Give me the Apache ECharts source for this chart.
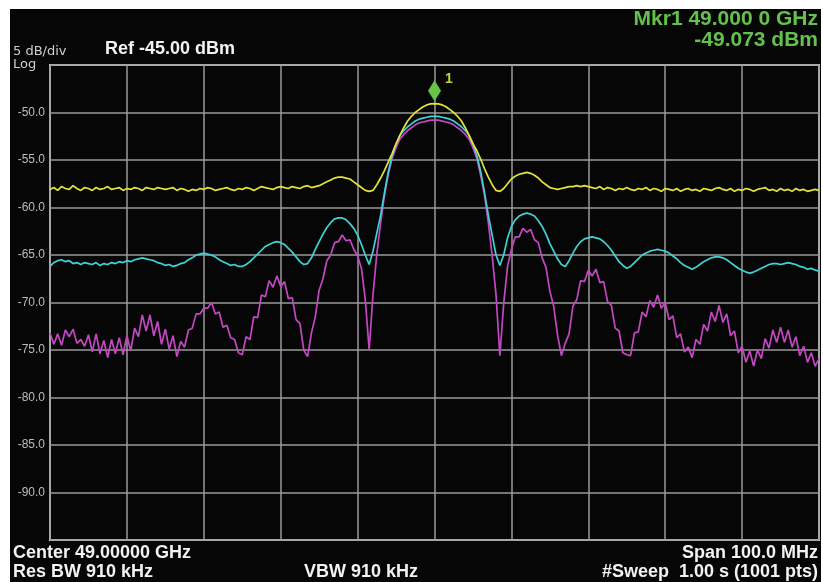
<!DOCTYPE html>
<html><head><meta charset="utf-8">
<script src="https://cdn.jsdelivr.net/npm/echarts@6/dist/echarts.min.js"></script>
<style>html,body{margin:0;padding:0;background:#fff;}#c{width:823px;height:582px;}</style>
</head><body><div id="c"></div>
<script>
// Sweep: center 49.000 GHz, span 100 MHz, values read every 0.5 MHz
const startMHz = 48950;
const stepMHz = 0.5;
const refLevel = -45, bottomLevel = -95, dbPerDiv = 5;
const yTickLabels = ['-50.0','-55.0','-60.0','-65.0','-70.0','-75.0','-80.0','-85.0','-90.0'];
const markerFreqMHz = 49000;
const markerLevel = -49.073;

const yellowTrace = [
-58.1,-57.9,-58.2,-57.8,-58.0,-58.1,-57.7,-58.0,-58.2,-57.9,
-58.0,-58.2,-57.9,-58.1,-58.0,-57.8,-58.1,-58.0,-57.9,-58.2,
-58.0,-58.1,-57.9,-58.0,-58.2,-57.9,-58.0,-58.1,-57.9,-58.0,
-58.1,-58.0,-57.9,-58.2,-58.0,-58.1,-58.3,-58.1,-58.2,-58.0,
-58.1,-57.9,-58.0,-58.2,-58.1,-58.0,-57.9,-58.1,-58.2,-58.0,
-58.1,-57.9,-58.0,-58.2,-58.0,-57.8,-57.9,-58.0,-58.1,-57.9,
-57.8,-57.9,-58.0,-57.8,-57.9,-58.0,-57.8,-57.7,-57.9,-57.8,
-57.7,-57.5,-57.3,-57.1,-56.9,-56.8,-56.8,-56.9,-57.0,-57.3,
-57.6,-57.9,-58.2,-58.3,-58.2,-57.6,-56.9,-56.1,-55.2,-54.3,
-53.3,-52.4,-51.6,-50.9,-50.4,-50.0,-49.7,-49.4,-49.2,-49.1,
-49.07,
-49.1,-49.2,-49.4,-49.7,-50.0,-50.4,-50.9,-51.6,-52.4,-53.3,
-54.0,-54.9,-55.9,-56.8,-57.6,-58.2,-58.3,-58.0,-57.5,-57.0,
-56.7,-56.5,-56.4,-56.3,-56.4,-56.6,-56.9,-57.3,-57.6,-57.9,
-58.0,-58.1,-58.0,-57.9,-57.8,-57.8,-57.7,-57.8,-57.7,-57.8,
-57.9,-58.0,-57.8,-58.1,-57.9,-58.0,-58.2,-58.0,-58.1,-57.9,
-58.1,-58.2,-58.0,-58.1,-57.9,-58.2,-58.0,-58.1,-58.3,-58.0,
-58.1,-58.2,-58.0,-58.3,-58.1,-58.0,-58.2,-58.1,-58.3,-58.0,
-58.1,-58.2,-58.0,-57.9,-58.1,-58.2,-58.0,-58.3,-58.1,-58.2,
-58.0,-58.1,-58.3,-58.1,-58.0,-57.9,-58.2,-58.1,-58.3,-58.0,
-58.2,-58.1,-58.3,-58.0,-58.2,-58.1,-58.3,-58.2,-58.1,-58.2
];

const cyanTrace = [
-66.2,-65.8,-65.6,-65.5,-65.7,-65.6,-65.9,-65.8,-66.0,-65.8,
-65.9,-66.0,-65.8,-66.1,-65.9,-66.0,-65.8,-65.9,-65.7,-65.8,
-65.6,-65.7,-65.5,-65.4,-65.3,-65.4,-65.5,-65.6,-65.8,-65.9,
-66.1,-66.0,-66.2,-66.1,-65.9,-65.8,-65.5,-65.3,-65.0,-64.9,
-64.8,-64.9,-65.0,-65.2,-65.5,-65.7,-65.9,-66.1,-66.0,-66.2,
-66.2,-66.0,-65.7,-65.3,-64.9,-64.5,-64.1,-63.9,-63.7,-63.6,
-63.7,-63.9,-64.3,-64.7,-65.2,-65.7,-66.0,-65.9,-65.3,-64.4,
-63.6,-62.8,-62.1,-61.6,-61.2,-61.1,-61.1,-61.3,-61.7,-62.2,
-62.9,-63.9,-65.0,-66.0,-64.6,-62.7,-60.8,-58.4,-56.2,-54.5,
-53.3,-52.4,-51.9,-51.5,-51.2,-50.9,-50.7,-50.6,-50.5,-50.4,
-50.4,
-50.4,-50.5,-50.6,-50.7,-50.9,-51.2,-51.5,-51.9,-52.4,-53.3,
-54.5,-56.2,-58.4,-60.8,-62.9,-65.0,-66.1,-65.0,-63.2,-62.0,
-61.3,-60.9,-60.7,-60.6,-60.7,-60.9,-61.4,-62.0,-62.8,-63.8,
-64.6,-65.4,-66.0,-66.2,-65.6,-64.8,-64.1,-63.6,-63.3,-63.2,
-63.1,-63.2,-63.3,-63.6,-64.0,-64.5,-65.1,-65.7,-66.1,-66.4,
-66.2,-65.8,-65.4,-65.0,-64.8,-64.6,-64.5,-64.4,-64.5,-64.6,
-64.8,-65.1,-65.4,-65.8,-66.1,-66.3,-66.5,-66.3,-66.0,-65.7,
-65.5,-65.3,-65.2,-65.2,-65.3,-65.5,-65.8,-66.1,-66.4,-66.6,
-66.8,-66.9,-66.8,-66.6,-66.4,-66.2,-66.0,-65.9,-65.9,-66.0,
-65.9,-65.8,-65.9,-66.0,-66.2,-66.3,-66.5,-66.4,-66.6,-66.7
];

const magentaTrace = [
-73.2,-74.4,-73.3,-74.5,-72.9,-73.6,-72.8,-74.3,-73.9,-74.6,
-73.4,-75.2,-73.3,-75.4,-74.0,-75.8,-73.9,-75.4,-73.7,-75.5,
-73.5,-75.1,-72.7,-73.6,-71.3,-73.0,-71.3,-73.5,-72.0,-74.4,
-72.8,-74.9,-73.5,-75.7,-74.1,-74.7,-72.9,-72.7,-71.2,-71.2,
-70.6,-70.6,-70.0,-71.2,-71.0,-72.6,-72.4,-73.7,-73.9,-75.3,
-75.5,-73.6,-73.9,-71.5,-71.6,-69.2,-69.4,-67.7,-68.4,-67.2,
-68.3,-67.8,-69.6,-69.5,-71.8,-72.2,-75.0,-75.7,-73.2,-71.5,
-68.7,-67.5,-65.6,-65.0,-63.7,-63.6,-62.9,-63.5,-63.4,-64.4,
-65.1,-66.4,-69.7,-75.0,-69.2,-64.9,-61.6,-58.7,-56.5,-54.8,
-53.7,-52.8,-52.3,-51.9,-51.6,-51.3,-51.1,-51.0,-50.9,-50.8,
-50.8,
-50.8,-50.9,-51.0,-51.1,-51.3,-51.6,-51.9,-52.3,-52.8,-53.7,
-54.8,-56.6,-58.7,-61.6,-65.1,-69.2,-75.6,-70.1,-66.2,-64.4,
-63.1,-63.1,-62.2,-62.6,-62.3,-63.4,-63.7,-65.3,-66.3,-68.8,
-70.4,-73.4,-75.6,-74.3,-73.3,-70.4,-69.7,-67.7,-67.8,-66.6,
-67.2,-66.5,-67.9,-67.8,-69.9,-70.3,-72.7,-73.0,-75.3,-75.5,
-75.6,-73.2,-73.1,-71.0,-71.5,-69.8,-70.5,-69.2,-70.6,-70.0,
-71.8,-71.4,-73.7,-73.3,-75.2,-74.7,-75.8,-73.9,-74.4,-72.3,
-73.0,-71.0,-72.0,-70.3,-72.1,-71.2,-73.5,-73.0,-75.3,-74.6,
-76.3,-75.1,-76.7,-75.0,-75.9,-73.8,-74.8,-72.9,-74.2,-72.6,
-74.2,-72.9,-74.7,-73.6,-75.6,-74.6,-76.3,-75.3,-76.7,-75.9
];

function pairs(arr){ return arr.map((v,i)=>[startMHz + i*stepMHz, v]); }

const chart = echarts.init(document.getElementById('c'), null, {renderer:'canvas'});
const boldFont = '"Liberation Sans", Arial, sans-serif';
chart.setOption({
  animation:false,
  backgroundColor:'#ffffff',
  graphic:[
    {type:'rect', z:-10, shape:{x:10,y:9,width:811,height:573}, style:{fill:'#060606'}},
    {type:'text', left:13, top:45, style:{text:'5 dB/div', fill:'#d0d0d0', font:'13px "DejaVu Sans", sans-serif'}},
    {type:'text', left:13, top:58, style:{text:'Log', fill:'#d0d0d0', font:'13px "DejaVu Sans", sans-serif'}},
    {type:'text', left:105, top:40, style:{text:'Ref -45.00 dBm', fill:'#f2f2f2', font:'bold 18px '+boldFont}},
    {type:'text', right:5, top:9, style:{text:'Mkr1 49.000 0 GHz', fill:'#62c24c', font:'bold 21px '+boldFont}},
    {type:'text', right:5, top:30, style:{text:'-49.073 dBm', fill:'#62c24c', font:'bold 21px '+boldFont}},
    {type:'text', left:13, top:544, style:{text:'Center 49.00000 GHz', fill:'#f2f2f2', font:'bold 18px '+boldFont}},
    {type:'text', left:13, top:563, style:{text:'Res BW 910 kHz', fill:'#f2f2f2', font:'bold 18px '+boldFont}},
    {type:'text', left:304, top:563, style:{text:'VBW 910 kHz', fill:'#f2f2f2', font:'bold 18px '+boldFont}},
    {type:'text', right:5, top:544, style:{text:'Span 100.0 MHz', fill:'#f2f2f2', font:'bold 18px '+boldFont}},
    {type:'text', right:5, top:563, style:{text:'#Sweep  1.00 s (1001 pts)', fill:'#f2f2f2', font:'bold 18px '+boldFont}}
  ],
  grid:{left:50, right:4, top:65, bottom:42, show:true, borderColor:'#cfcfcf', borderWidth:2, backgroundColor:'transparent'},
  xAxis:{type:'value', min:startMHz, max:startMHz+100, interval:10,
    axisLine:{show:false}, axisTick:{show:false}, axisLabel:{show:false},
    splitLine:{show:true, lineStyle:{color:'#9a9a9a', width:1.5}}},
  yAxis:{type:'value', min:bottomLevel, max:refLevel, interval:dbPerDiv,
    axisLine:{show:false}, axisTick:{show:false},
    axisLabel:{margin:5, color:'#bcbcbc', fontSize:12, fontFamily:'"Liberation Sans", Arial, sans-serif',
      formatter:function(v){ const k=Math.round((refLevel - v)/dbPerDiv) - 1; return (k>=0 && k<yTickLabels.length)? yTickLabels[k] : ''; }},
    splitLine:{show:true, lineStyle:{color:'#9a9a9a', width:1.5}}},
  series:[
    {type:'line', name:'Trace3', data:pairs(magentaTrace), showSymbol:false, lineStyle:{color:'#c448c4', width:1.7}, z:3},
    {type:'line', name:'Trace2', data:pairs(cyanTrace), showSymbol:false, lineStyle:{color:'#3fd3d6', width:1.7}, z:4},
    {type:'line', name:'Trace1', data:pairs(yellowTrace), showSymbol:false, lineStyle:{color:'#e4e43c', width:1.7}, z:5,
      markPoint:{symbol:'diamond', symbolSize:[13,21], symbolOffset:[0,-13],
        itemStyle:{color:'#66c447'},
        label:{show:true, formatter:'1', position:'right', offset:[-1,-12], color:'#c8d040', fontSize:14, fontWeight:'bold', fontFamily:boldFont},
        data:[{coord:[markerFreqMHz, markerLevel]}]}}
  ]
});
</script></body></html>
